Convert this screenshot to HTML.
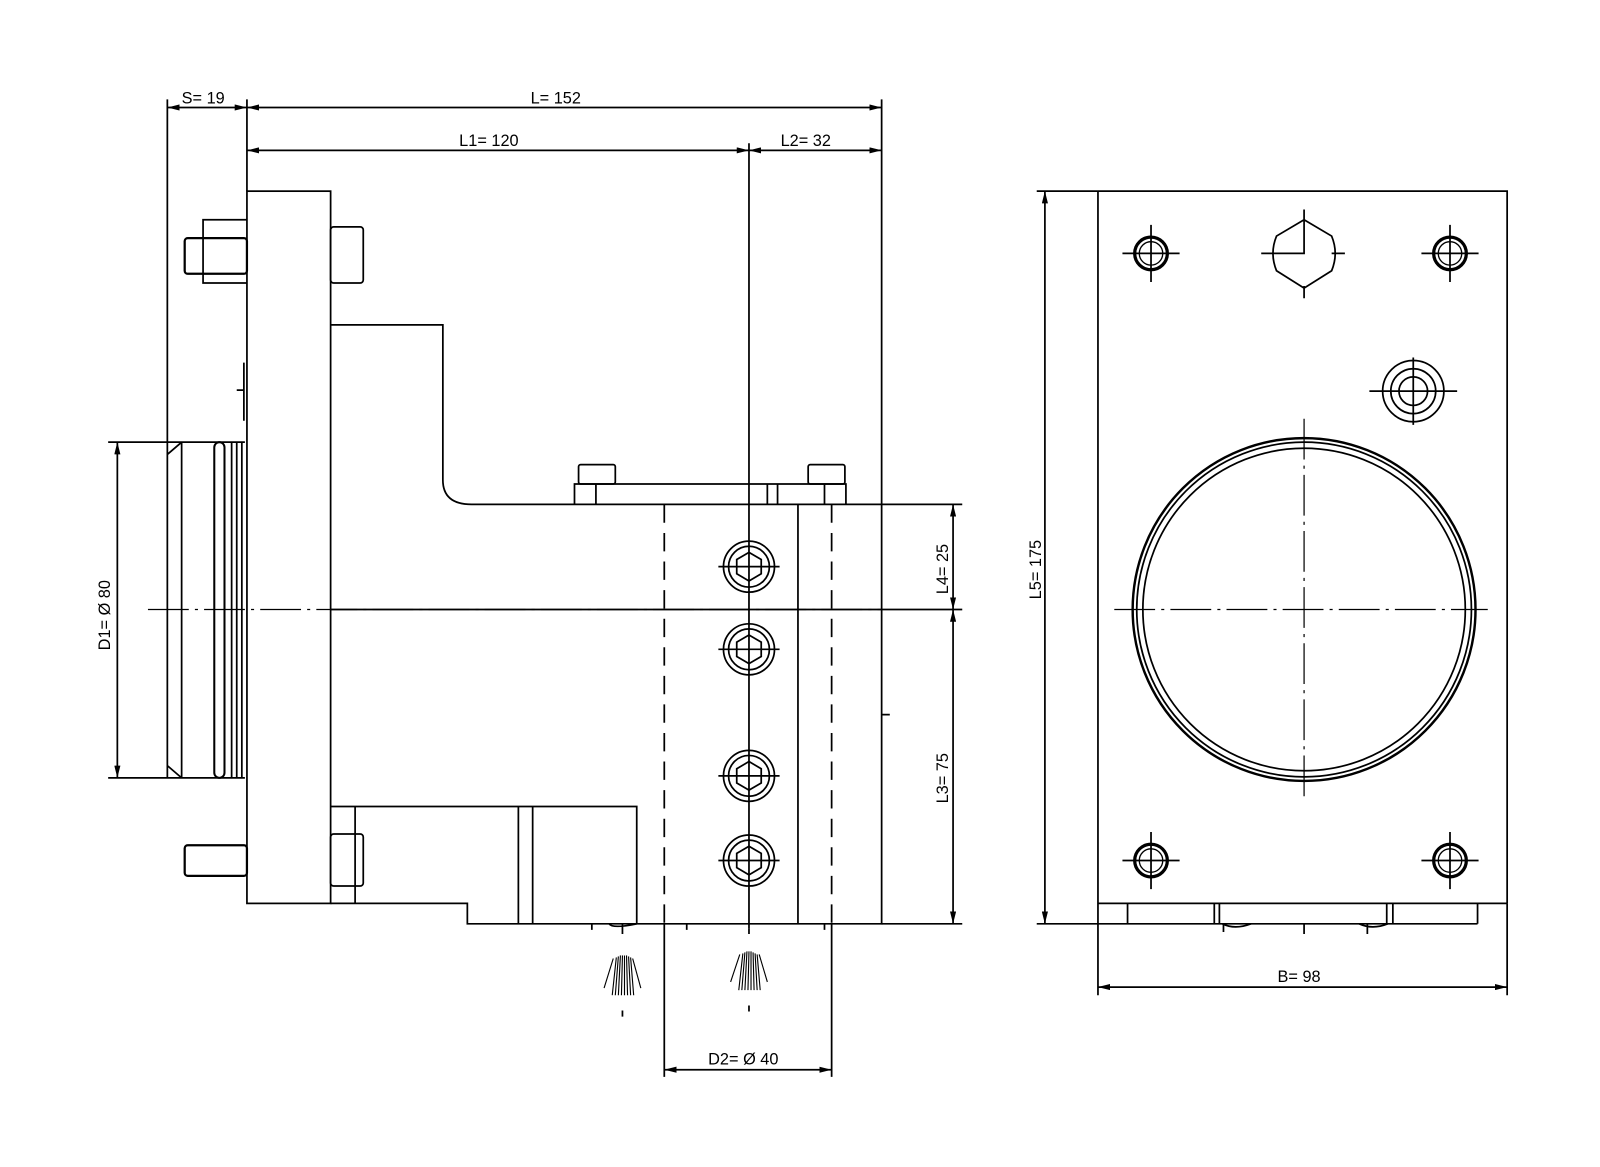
<!DOCTYPE html>
<html><head><meta charset="utf-8"><style>
html,body{margin:0;padding:0;background:#fff;}
svg{display:block;}
text{font-family:"Liberation Sans",sans-serif;font-size:16px;fill:#000;}
</style></head><body>
<svg width="1600" height="1167" viewBox="0 0 1568 1143" xmlns="http://www.w3.org/2000/svg">
<defs>
<marker id="a" viewBox="0 0 12 6" refX="12" refY="3" markerWidth="12" markerHeight="6" orient="auto-start-reverse" markerUnits="userSpaceOnUse"><path d="M0,0 L12,3 L0,6 Z" fill="#000"/></marker>
</defs>
<g fill="none" stroke="#000" stroke-width="1.7">
<path d="M164,97 V433 M242,97 V187 M864,97 V494 M734,140 V910"/>
<line x1="164" y1="105" x2="242" y2="105" marker-start="url(#a)" marker-end="url(#a)"/>
<line x1="242" y1="105" x2="864" y2="105" marker-start="url(#a)" marker-end="url(#a)"/>
<line x1="242" y1="147" x2="734" y2="147" marker-start="url(#a)" marker-end="url(#a)"/>
<line x1="734" y1="147" x2="864" y2="147" marker-start="url(#a)" marker-end="url(#a)"/>
<rect x="242" y="187" width="82" height="698"/>
<path d="M242,215 H199 V277 H242"/>
<rect x="181" y="233" width="61" height="35" rx="3" stroke-width="2.2"/>
<rect x="324" y="222" width="32" height="55" rx="3"/>
<path d="M239,355 V412 M232,382 H239"/>
<path d="M106,433 H240 M106,762 H240 M164,433 V762 M164,445 L178,433 M164,750 L178,762 M178,433 V762"/>
<rect x="210" y="433" width="10" height="329" rx="5" stroke-width="2"/>
<path d="M227,433 V762 M232,433 V762 M237,433 V762"/>
<line x1="115" y1="433" x2="115" y2="762" marker-start="url(#a)" marker-end="url(#a)"/>
<path d="M324,318 H434 V470 Q434,494 462,494 H864 V905 H458 V885 H324"/>
<path d="M563,494 V474 H829 V494 M584,474 V494 M752,474 V494 M762,474 V494 M808,474 V494"/>
<rect x="567" y="455" width="36" height="19" rx="2"/>
<rect x="792" y="455" width="36" height="19" rx="2"/>
<path d="M782,494 V905"/>
<path d="M651,494 V905 M815,494 V905" stroke-dasharray="18,10"/>
<path d="M651,905 V1055 M815,905 V1055"/>
<line x1="651" y1="1048" x2="815" y2="1048" marker-start="url(#a)" marker-end="url(#a)"/>
<path d="M324,790 H624 V905 M348,790 V885 M508,790 V905 M522,790 V905"/>
<rect x="324" y="817" width="32" height="51" rx="3"/>
<rect x="181" y="828" width="61" height="30" rx="3" stroke-width="2.2"/>
<path d="M597,905 Q600,910 624,905 M580,905 V911 M673,905 V911 M808,905 V911 M610,905 V915 M734,910 V915"/>
<path d="M145,597 H864" stroke-dasharray="40,6,3,6" stroke-width="1.2"/>
<path d="M324,597 H943"/>
<path d="M864,700 H872"/>
<path d="M864,494 H943 M864,905 H943"/>
<line x1="934" y1="494" x2="934" y2="597" marker-start="url(#a)" marker-end="url(#a)"/>
<line x1="934" y1="597" x2="934" y2="905" marker-start="url(#a)" marker-end="url(#a)"/>
<g id="b"><circle cx="734" cy="555" r="25"/><circle cx="734" cy="555" r="20"/><path d="M734,541 L746,548 V562 L734,569 L722,562 V548 Z"/><path d="M704,555 H764"/></g>
<use href="#b" y="81"/><use href="#b" y="205"/><use href="#b" y="288"/>
<g stroke-width="1.1">
<path d="M600,975 L604,938 M603,975 L606,937 M606,975 L608,936 M609,975 L610,936 M612,975 L612,936 M615,975 L614,936 M618,975 L616,937 M621,975 L618,938 M592,968 L601,939 M628,968 L620,939"/>
<path d="M724,970 L728,934 M727,970 L730,933 M730,970 L732,932 M733,970 L734,932 M736,970 L736,932 M739,970 L738,933 M742,970 L740,934 M745,970 L742,935 M716,962 L725,935 M752,962 L744,935"/>
</g>
<path d="M610,990 V996 M734,985 V991"/>
<!-- RIGHT VIEW -->
<path d="M1076,187 H1477 V885 M1076,187 V905 H1448"/>
<path d="M1016,187 H1076 M1016,905 H1076 M1076,905 V975 M1477,885 V975"/>
<line x1="1024" y1="187" x2="1024" y2="905" marker-start="url(#a)" marker-end="url(#a)"/>
<line x1="1076" y1="967" x2="1477" y2="967" marker-start="url(#a)" marker-end="url(#a)"/>
<path d="M1076,885 H1477 M1105,885 V905 M1190,885 V905 M1195,885 V905 M1359,885 V905 M1365,885 V905 M1448,885 V905"/>
<path d="M1198,905 Q1210,911 1226,905 M1332,905 Q1345,911 1360,905 M1199,905 V913 M1278,905 V915 M1340,905 V915"/>
<g id="h"><circle cx="1128" cy="248" r="16" stroke-width="3.2"/><circle cx="1128" cy="248" r="11.5" stroke-width="1.3"/><path d="M1100,248 H1156 M1128,220 V276"/></g>
<use href="#h" x="293"/><use href="#h" y="595"/><use href="#h" x="293" y="595"/>
<path d="M1278,215 L1305,231 Q1312,248 1305,265 L1278,282 L1251,265 Q1244,248 1251,231 Z M1278,215 V248 H1236 M1305,248 H1318 M1278,280 V292 M1278,205 V215"/>
<circle cx="1385" cy="383" r="30"/><circle cx="1385" cy="383" r="22"/><circle cx="1385" cy="383" r="14"/>
<path d="M1342,383 H1428 M1385,350 V416"/>
<circle cx="1278" cy="597" r="168" stroke-width="2.4"/><circle cx="1278" cy="597" r="164"/><circle cx="1278" cy="597" r="158"/>
<path d="M1092,597 H1458 M1278,410 V780" stroke-dasharray="40,6,3,6" stroke-width="1.2"/>
</g>
<text x="178" y="101">S=  19</text>
<text x="520" y="101">L=  152</text>
<text x="450" y="143">L1=  120</text>
<text x="765" y="143">L2=  32</text>
<text x="694" y="1043">D2= Ø 40</text>
<text x="1252" y="962">B=  98</text>
<text transform="translate(108,637) rotate(-90)">D1= Ø 80</text>
<text transform="translate(929,582) rotate(-90)">L4=  25</text>
<text transform="translate(929,787) rotate(-90)">L3=  75</text>
<text transform="translate(1020,587) rotate(-90)">L5=  175</text>
</svg>
</body></html>
